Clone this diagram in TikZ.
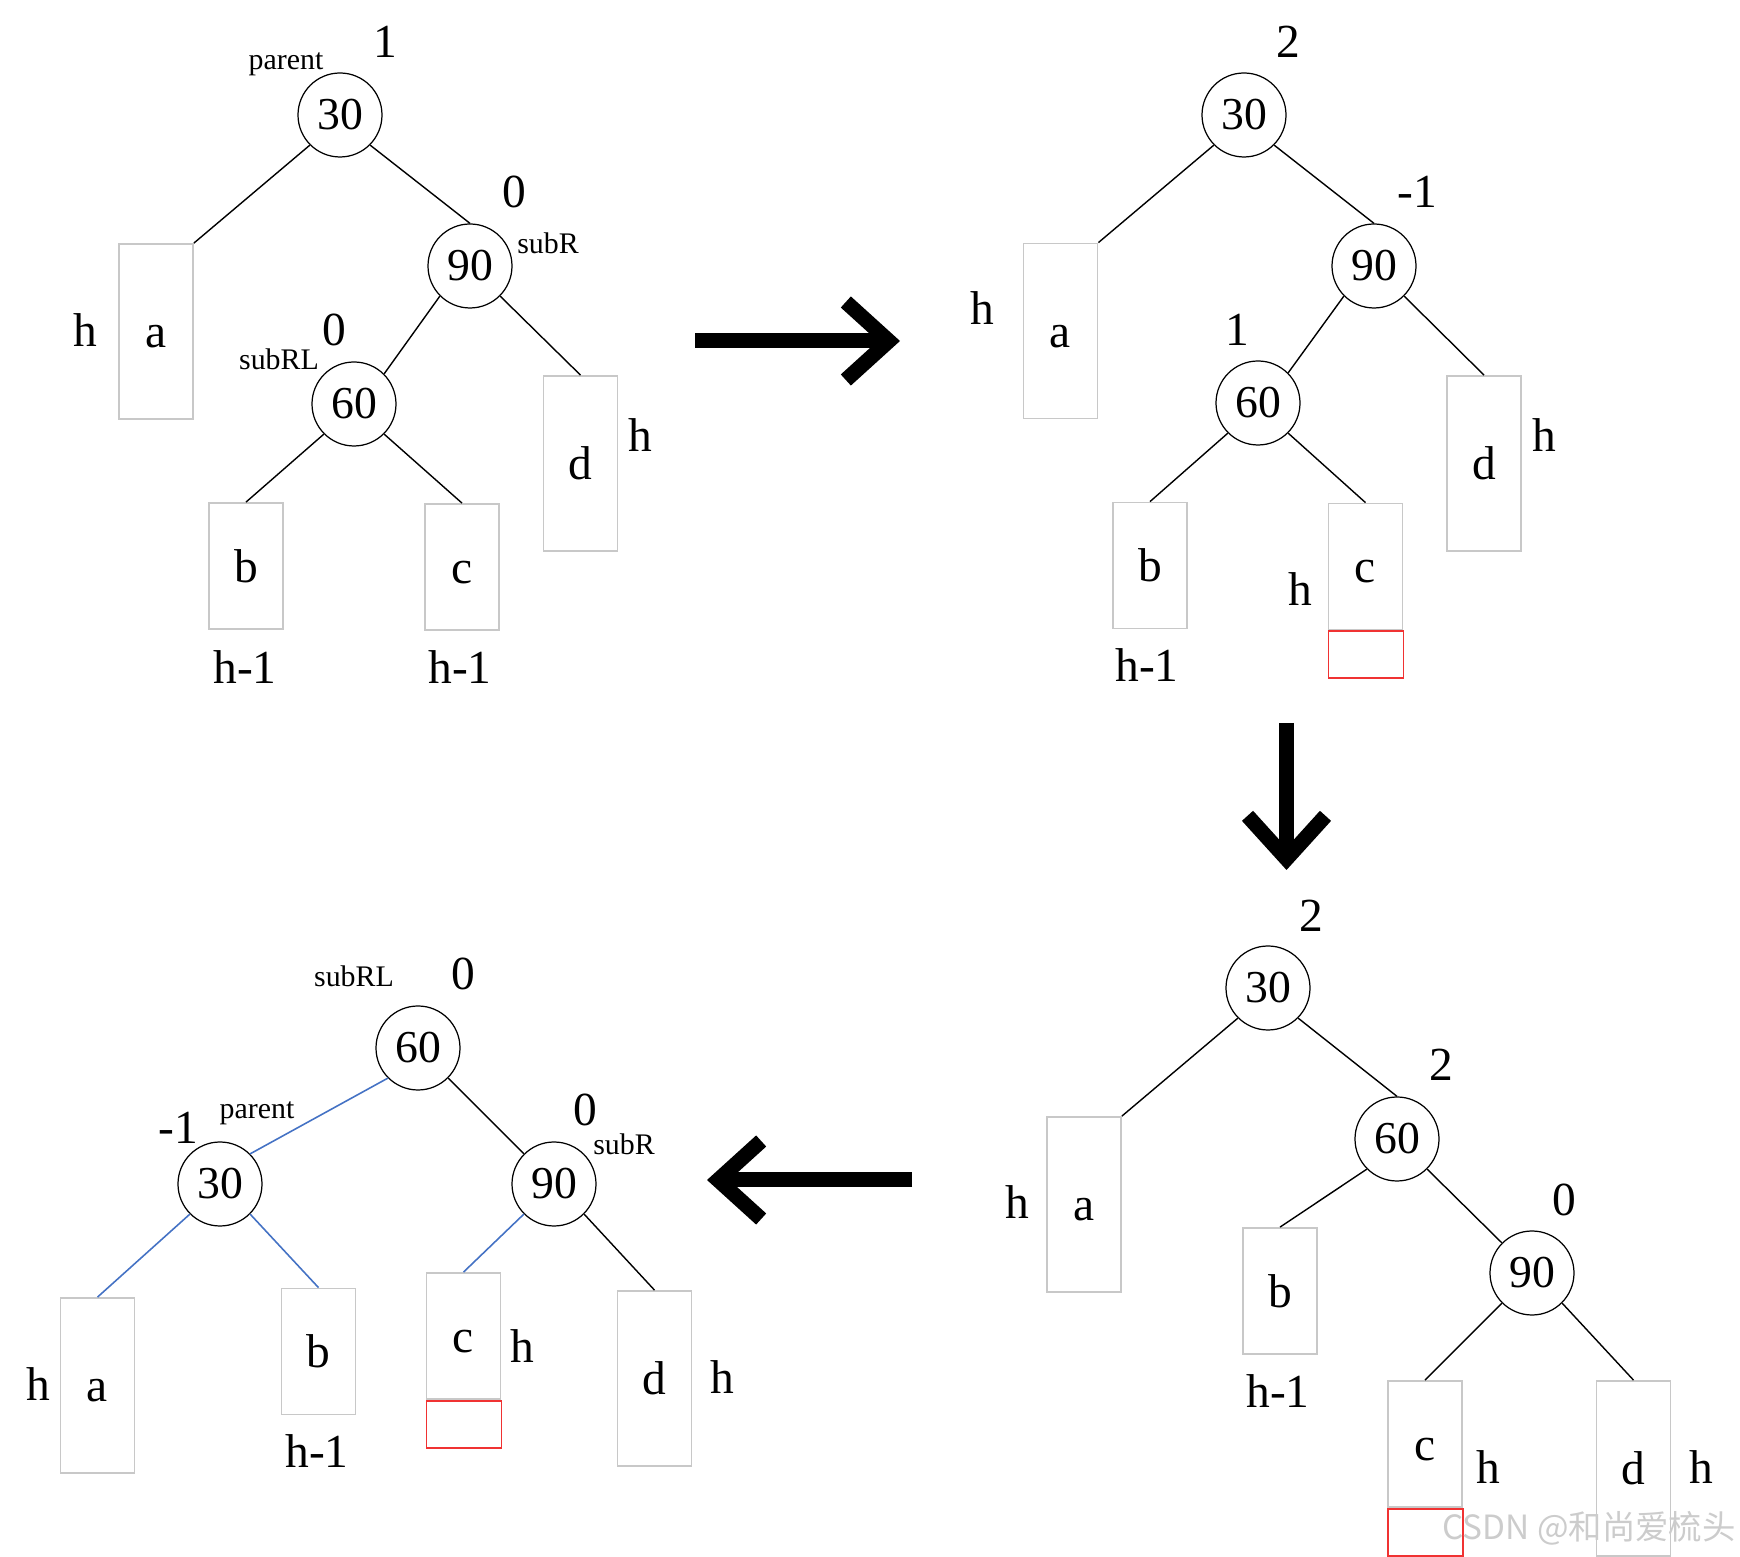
\documentclass[tikz,border=0pt]{standalone}
\usepackage{fontspec}
\setmainfont{Liberation Serif}
\newfontfamily\cjk{Noto Sans CJK SC}
\usepackage{tikz}
\usetikzlibrary{arrows.meta}

\definecolor{boxgray}{RGB}{200,200,200}
\definecolor{linkblue}{RGB}{68,114,196}
\definecolor{newred}{RGB}{240,50,50}

\begin{document}
\begin{tikzpicture}[
  key/.style={circle, draw, line width=0.35pt, minimum size=0.84cm, inner sep=0pt,
    font=\fontsize{13}{15}\selectfont},
  leaf/.style={draw=boxgray, line width=0.5pt, minimum width=0.74cm, minimum height=1.26cm,
    inner sep=0pt, text height=0.325cm, text depth=0pt, font=\fontsize{13.5}{16}\selectfont},
  tall/.style={minimum height=1.75cm},
  newbox/.style={draw=newred, line width=0.5pt, minimum width=0.75cm, minimum height=0.47cm,
    inner sep=0pt, anchor=north west},
  bf/.style={inner sep=0pt, font=\fontsize{13.5}{16}\selectfont},
  tag/.style={inner sep=0pt, font=\fontsize{8.5}{10}\selectfont},
  edge/.style={line width=0.4pt},
  blue edge/.style={line width=0.45pt, draw=linkblue},
  bigarrow/.style={line width=1.5mm, -{Straight Barb[length=4.3mm, width=7.8mm]}},
  wm/.style={inner sep=0pt, text=black!20, font=\cjk\fontsize{9.5}{11}\selectfont}
]
  \useasboundingbox (0,0) rectangle (17.40,-15.57);

  % step 1: insert into c
  \node[key] (A30) at (3.40,-1.15) {30};
  \node[key] (A90) at (4.70,-2.66) {90};
  \node[key] (A60) at (3.54,-4.04) {60};
  \node[leaf, tall] (Aa) at (1.56,-3.315) {a};
  \node[leaf] (Ab) at (2.46,-5.66) {b};
  \node[leaf] (Ac) at (4.62,-5.67) {c};
  \node[leaf, tall] (Ad) at (5.805,-4.635) {d};
  \draw[edge] (A30.south west) -- (Aa.north east);
  \draw[edge] (A30.south east) -- (A90.north);
  \draw[edge] (A90.south west) -- (A60.north east);
  \draw[edge] (A90.south east) -- (Ad.north);
  \draw[edge] (A60.south west) -- (Ab.north);
  \draw[edge] (A60.south east) -- (Ac.north);
  \node[bf] (A30f) at (3.85,-0.42) {1};
  \node[tag] (A30t) at (2.86,-0.64) {parent};
  \node[bf] (A90f) at (5.14,-1.92) {0};
  \node[tag] (A90t) at (5.48,-2.43) {subR};
  \node[bf] (A60f) at (3.34,-3.30) {0};
  \node[tag] (A60t) at (2.79,-3.59) {subRL};
  \node[bf] (Aah) at (0.85,-3.30) {h};
  \node[bf] (Abh) at (2.45,-6.67) {h-1};
  \node[bf] (Ach) at (4.60,-6.67) {h-1};
  \node[bf] (Adh) at (6.40,-4.35) {h};

  % step 2: c grows
  \node[key] (B30) at (12.44,-1.15) {30};
  \node[key] (B90) at (13.74,-2.66) {90};
  \node[key] (B60) at (12.58,-4.03) {60};
  \node[leaf, tall] (Ba) at (10.605,-3.31) {a};
  \node[leaf] (Bb) at (11.50,-5.655) {b};
  \node[leaf] (Bc) at (13.655,-5.665) {c};
  \node[leaf, tall] (Bd) at (14.84,-4.635) {d};
  \node[newbox] (Bn) at (Bc.south west) {};
  \draw[edge] (B30.south west) -- (Ba.north east);
  \draw[edge] (B30.south east) -- (B90.north);
  \draw[edge] (B90.south west) -- (B60.north east);
  \draw[edge] (B90.south east) -- (Bd.north);
  \draw[edge] (B60.south west) -- (Bb.north);
  \draw[edge] (B60.south east) -- (Bc.north);
  \node[bf] (B30f) at (12.88,-0.42) {2};
  \node[bf] (B90f) at (14.17,-1.92) {-1};
  \node[bf] (B60f) at (12.37,-3.30) {1};
  \node[bf] (Bah) at (9.82,-3.08) {h};
  \node[bf] (Bbh) at (11.47,-6.65) {h-1};
  \node[bf] (Bch) at (13.00,-5.89) {h};
  \node[bf] (Bdh) at (15.44,-4.35) {h};

  % step 3: rotate right at 90
  \node[key] (C30) at (12.68,-9.88) {30};
  \node[key] (C60) at (13.97,-11.39) {60};
  \node[key] (C90) at (15.32,-12.73) {90};
  \node[leaf, tall] (Ca) at (10.84,-12.045) {a};
  \node[leaf] (Cb) at (12.80,-12.91) {b};
  \node[leaf] (Cc) at (14.25,-14.44) {c};
  \node[leaf, tall] (Cd) at (16.335,-14.685) {d};
  \node[newbox] (Cn) at (Cc.south west) {};
  \draw[edge] (C30.south west) -- (Ca.north east);
  \draw[edge] (C30.south east) -- (C60.north);
  \draw[edge] (C60.south west) -- (Cb.north);
  \draw[edge] (C60.south east) -- (C90.north west);
  \draw[edge] (C90.south west) -- (Cc.north);
  \draw[edge] (C90.south east) -- (Cd.north);
  \node[bf] (C30f) at (13.11,-9.16) {2};
  \node[bf] (C60f) at (14.41,-10.65) {2};
  \node[bf] (C90f) at (15.64,-12.00) {0};
  \node[bf] (Cah) at (10.17,-12.02) {h};
  \node[bf] (Cbh) at (12.78,-13.91) {h-1};
  \node[bf] (Cch) at (14.88,-14.67) {h};
  \node[bf] (Cdh) at (17.01,-14.67) {h};

  % step 4: rotate left at 30
  \node[key] (D60) at (4.18,-10.48) {60};
  \node[key] (D30) at (2.20,-11.84) {30};
  \node[key] (D90) at (5.54,-11.84) {90};
  \node[leaf, tall] (Da) at (0.975,-13.855) {a};
  \node[leaf] (Db) at (3.185,-13.515) {b};
  \node[leaf] (Dc) at (4.635,-13.36) {c};
  \node[leaf, tall] (Dd) at (6.545,-13.785) {d};
  \node[newbox] (Dn) at (Dc.south west) {};
  \draw[blue edge] (D60.south west) -- (D30.north east);
  \draw[edge] (D60.south east) -- (D90.north west);
  \draw[blue edge] (D30.south west) -- (Da.north);
  \draw[blue edge] (D30.south east) -- (Db.north);
  \draw[blue edge] (D90.south west) -- (Dc.north);
  \draw[edge] (D90.south east) -- (Dd.north);
  \node[tag] (D60t) at (3.54,-9.76) {subRL};
  \node[bf] (D60f) at (4.63,-9.74) {0};
  \node[bf] (D30f) at (1.78,-11.28) {-1};
  \node[tag] (D30t) at (2.57,-11.13) {parent};
  \node[bf] (D90f) at (5.85,-11.10) {0};
  \node[tag] (D90t) at (6.24,-11.44) {subR};
  \node[bf] (Dah) at (0.38,-13.84) {h};
  \node[bf] (Dbh) at (3.17,-14.51) {h-1};
  \node[bf] (Dch) at (5.22,-13.46) {h};
  \node[bf] (Ddh) at (7.22,-13.77) {h};

  % arrows between the steps
  \coordinate (AB1) at (6.95,-3.41);
  \coordinate (AB2) at (9.00,-3.41);
  \coordinate (BC1) at (12.865,-7.23);
  \coordinate (BC2) at (12.865,-8.70);
  \coordinate (CD1) at (9.12,-11.80);
  \coordinate (CD2) at (7.07,-11.80);
  \draw[bigarrow] (AB1) -- (AB2);
  \draw[bigarrow] (BC1) -- (BC2);
  \draw[bigarrow] (CD1) -- (CD2);

  \node[wm] (csdn) at (15.89,-15.28) {CSDN @和尚爱梳头};
\end{tikzpicture}
\end{document}
